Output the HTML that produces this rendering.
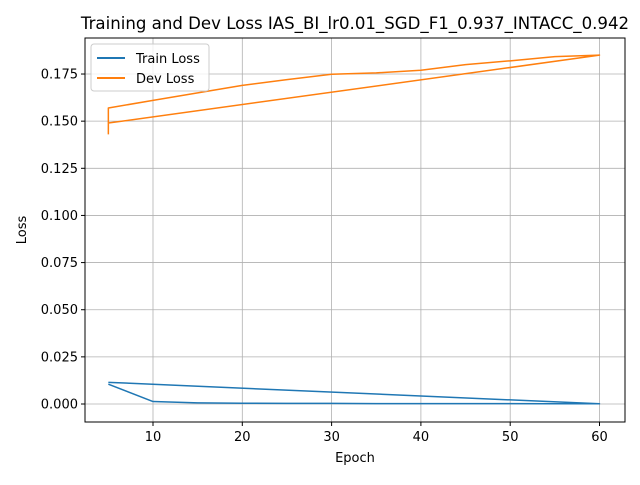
<!DOCTYPE html>
<html><head><meta charset="utf-8"><style>
body{margin:0;background:#fff;}
svg text{font-family:"DejaVu Sans","Liberation Sans",sans-serif;}
</style></head><body>
<svg id="chart" width="640" height="480" xmlns="http://www.w3.org/2000/svg">
<rect width="640" height="480" fill="#fff"/>
<g id="grid"></g>
<g id="series"></g>
<rect x="85" y="38" width="540" height="384" fill="none" stroke="#000" stroke-width="1"/>
<g id="ticks"></g>
<text x="355" y="29" font-size="16.6" text-anchor="middle">Training and Dev Loss IAS_BI_lr0.01_SGD_F1_0.937_INTACC_0.942</text>
<text x="355" y="462" font-size="13" text-anchor="middle">Epoch</text>
<text x="26" y="230" font-size="13" text-anchor="middle" transform="rotate(-90 26 230)">Loss</text>
<g>
<rect x="91" y="44" width="118" height="47" rx="3" fill="#fff" fill-opacity="0.8" stroke="#ccc"/>
<line x1="97" y1="58" x2="125" y2="58" stroke="#1f77b4" stroke-width="2"/>
<text x="136" y="63" font-size="13">Train Loss</text>
<line x1="97" y1="78" x2="125" y2="78" stroke="#ff7f0e" stroke-width="2"/>
<text x="136" y="83" font-size="13">Dev Loss</text>
</g>
</svg>
<script>
const trainEpochs=[5,10,15,20,25,30,35,40,45,50,55,60,5];
const trainLoss=[0.0105,0.0013,0.0006,0.0004,0.0003,0.0003,0.0002,0.0002,0.0002,0.0002,0.0001,0.0001,0.0115];
const devEpochs=[5,5,10,15,20,25,30,35,40,45,50,55,60,5];
const devLoss=[0.143,0.157,0.161,0.165,0.169,0.172,0.1749,0.1756,0.177,0.180,0.182,0.1842,0.185,0.149];
const xTicks=[10,20,30,40,50,60];
const yTicks=[0,0.025,0.05,0.075,0.1,0.125,0.15,0.175];
const X=v=>63.7+v*8.93;
const Y=v=>404-v/0.025*47.14;
const NS="http://www.w3.org/2000/svg";
const grid=document.getElementById('grid'),ticks=document.getElementById('ticks'),ser=document.getElementById('series');
function mk(tag,attrs,parent){const e=document.createElementNS(NS,tag);for(const k in attrs)e.setAttribute(k,attrs[k]);parent.appendChild(e);return e;}
xTicks.forEach(t=>{
 const g=mk('line',{x1:X(t),x2:X(t),y1:38,y2:422,stroke:'#b0b0b0','stroke-width':0.8},grid);
 
 
 mk('line',{x1:X(t),x2:X(t),y1:422,y2:426,stroke:'#000'},ticks);
 const tx=mk('text',{x:X(t),y:441,'font-size':13,'text-anchor':'middle'},ticks);tx.textContent=t;
 
 
});
yTicks.forEach(t=>{
 const g=mk('line',{x1:85,x2:625,y1:Y(t),y2:Y(t),stroke:'#b0b0b0','stroke-width':0.8},grid);
 
 
 mk('line',{x1:81,x2:85,y1:Y(t),y2:Y(t),stroke:'#000'},ticks);
 const tx=mk('text',{x:78,y:Y(t)+4.5,'font-size':13,'text-anchor':'end'},ticks);tx.textContent=t.toFixed(3);
 
 
});
function line(xs,ys,color,name){
 const p=mk('polyline',{points:xs.map((x,i)=>X(x)+','+Y(ys[i])).join(' '),fill:'none',stroke:color,'stroke-width':1.5,'stroke-linejoin':'round'},ser);
 
 
}
line(trainEpochs,trainLoss,'#1f77b4','train-loss-line');
line(devEpochs,devLoss,'#ff7f0e','dev-loss-line');
</script>
</body></html>
